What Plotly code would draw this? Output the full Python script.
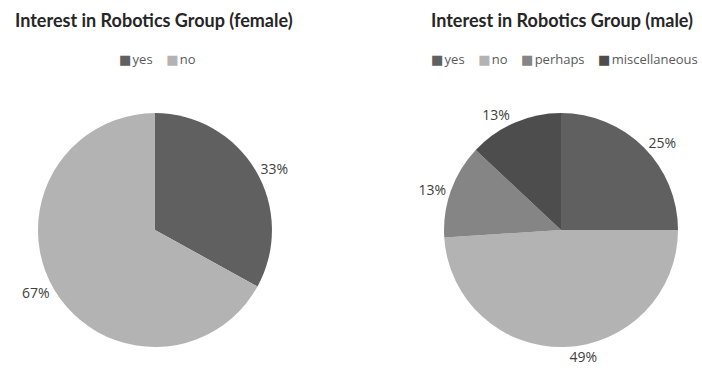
import plotly.graph_objects as go

female_labels = ["yes", "no"]
female_values = [33, 67]
female_colors = ["#606060", "#b3b3b3"]

male_labels = ["yes", "no", "perhaps", "miscellaneous"]
male_values = [25, 49, 13, 13]
male_colors = ["#606060", "#b3b3b3", "#858585", "#4d4d4d"]

titles = ["Interest in Robotics Group (female)", "Interest in Robotics Group (male)"]

FONT = "Lato"
LEG_FONT = "Open Sans"


def legend_text(labels, colors):
    parts = []
    for lab, col in zip(labels, colors):
        parts.append('<span style="color:%s;font-family:DejaVu Sans;font-size:13px">■</span>'
                     '<span style="font-size:5px">&nbsp;</span>%s' % (col, lab))
    return "&nbsp;&nbsp;&nbsp;&nbsp;".join(parts)


fig = go.Figure()
fig.add_trace(go.Pie(
    labels=female_labels, values=female_values, sort=False, direction="clockwise", rotation=0,
    marker=dict(colors=female_colors, line=dict(width=0)),
    textposition="outside", texttemplate="%{percent:.0%}",
    textfont=dict(family=LEG_FONT, size=14, color="#404040"),
    domain=dict(x=[0.054, 0.3875], y=[0.067, 0.696]),
    showlegend=False,
))
fig.add_trace(go.Pie(
    labels=male_labels, values=male_values, sort=False, direction="clockwise", rotation=0,
    marker=dict(colors=male_colors, line=dict(width=0)),
    textposition="outside", texttemplate="%{percent:.0%}",
    textfont=dict(family=LEG_FONT, size=14, color="#404040"),
    domain=dict(x=[0.6325, 0.9658], y=[0.067, 0.696]),
    showlegend=False,
))

annotations = []
for i, (t, cx) in enumerate(zip(titles, [154 / 702, 562 / 702])):
    annotations.append(dict(text="<b>" + t + "</b>", x=cx, y=1 - 20 / 372, xref="paper", yref="paper",
                            xanchor="center", yanchor="middle", showarrow=False,
                            font=dict(family=FONT, size=18, color="#262626")))
annotations.append(dict(text=legend_text(female_labels, female_colors), x=157 / 702, y=1 - 59 / 372,
                        xref="paper", yref="paper", xanchor="center", yanchor="middle", showarrow=False,
                        font=dict(family=LEG_FONT, size=13, color="#595959")))
annotations.append(dict(text=legend_text(male_labels, male_colors), x=564 / 702, y=1 - 59 / 372,
                        xref="paper", yref="paper", xanchor="center", yanchor="middle", showarrow=False,
                        font=dict(family=LEG_FONT, size=13, color="#595959")))

fig.update_layout(
    width=702, height=372,
    margin=dict(l=0, r=0, t=0, b=0),
    paper_bgcolor="white", plot_bgcolor="white",
    font=dict(family=FONT, color="#595959"),
    annotations=annotations,
)

fig.write_html("out.html")
